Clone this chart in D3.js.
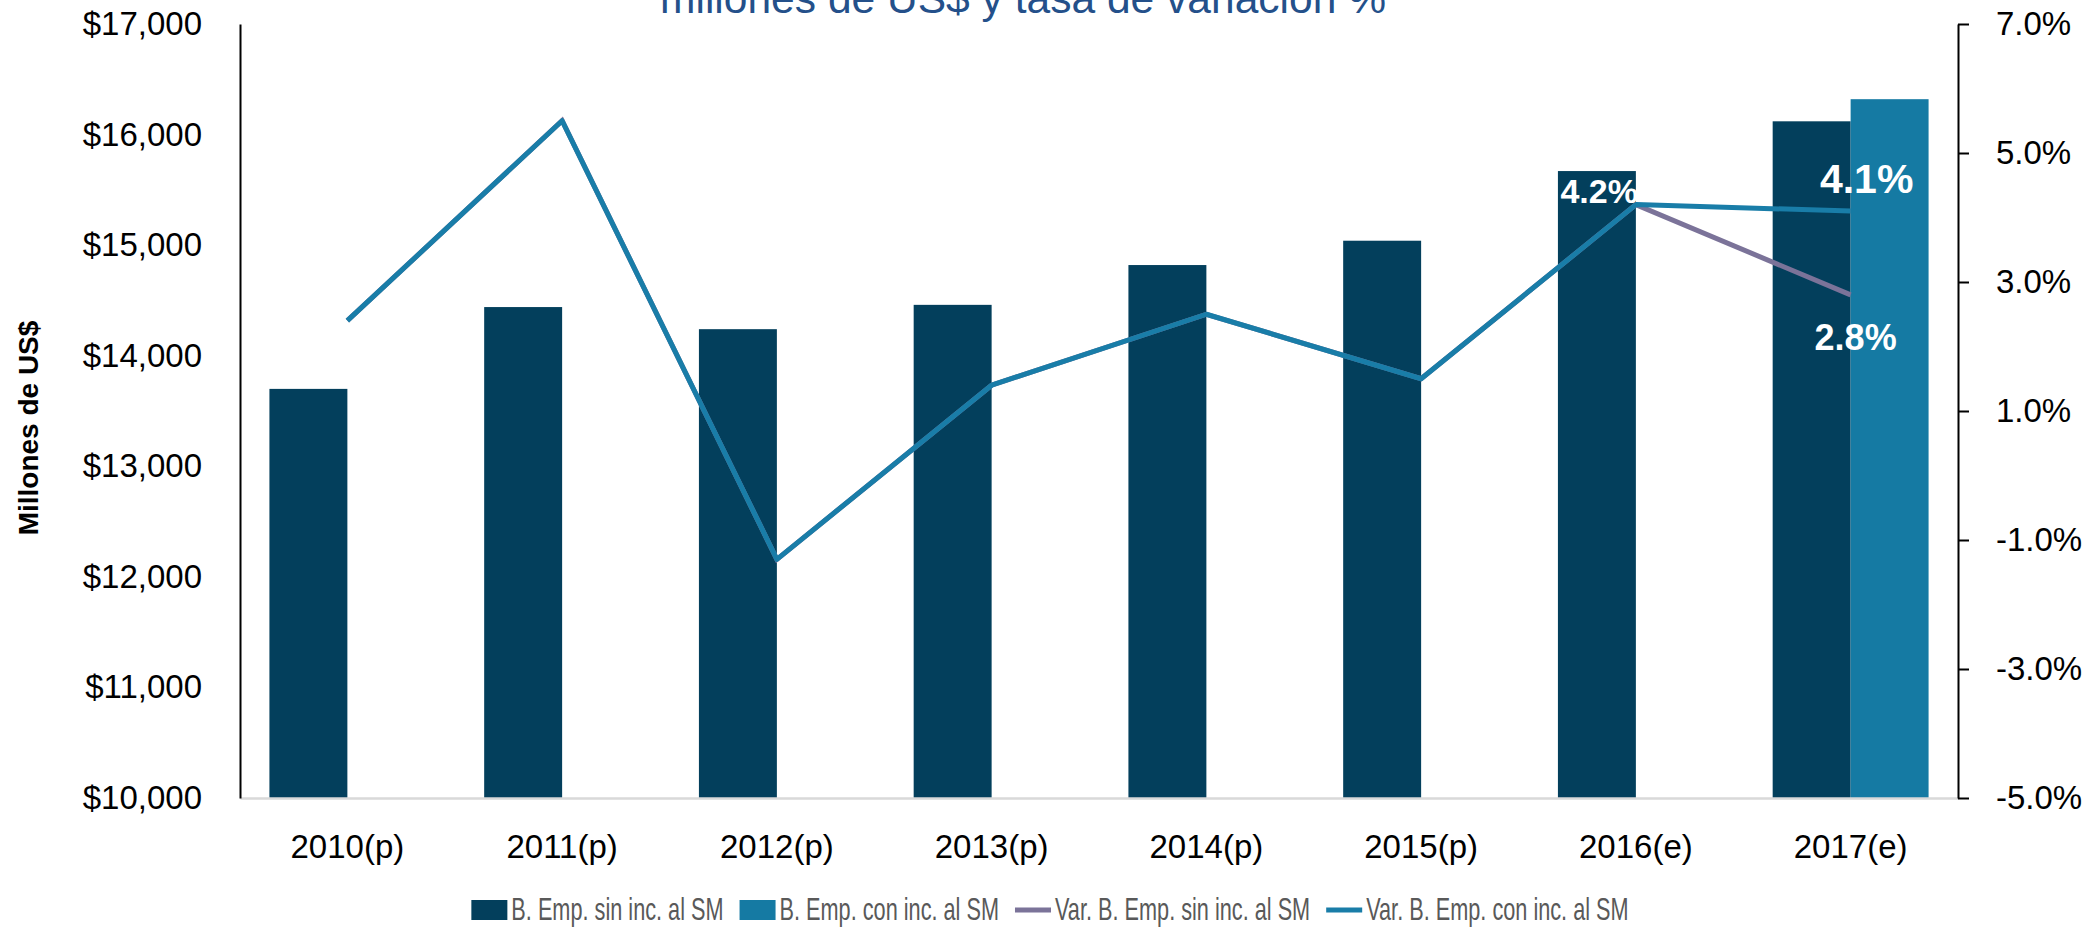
<!DOCTYPE html>
<html>
<head>
  <meta charset="utf-8">
  <title>Beneficio empresarial</title>
  <style>
    body { margin: 0; background: #fff; }
    text { font-family: "Liberation Sans", Arial, sans-serif; }
  </style>
</head>
<body>
  <script src="https://cdnjs.cloudflare.com/ajax/libs/d3/7.8.5/d3.min.js"></script>
  <script>
    // datos
    var years = ['2010(p)', '2011(p)', '2012(p)', '2013(p)', '2014(p)', '2015(p)', '2016(e)', '2017(e)'];
    var sinInc = [13700, 14440, 14240, 14460, 14820, 15040, 15670, 16120];
    var conInc = [null, null, null, null, null, null, null, 16320];
    var varSin = [2.4, 5.5, -1.3, 1.4, 2.5, 1.5, 4.2, 2.8];
    var varCon = [2.4, 5.5, -1.3, 1.4, 2.5, 1.5, 4.2, 4.1];
    var leftTicks = [10000, 11000, 12000, 13000, 14000, 15000, 16000, 17000];
    var rightTicks = [-5, -3, -1, 1, 3, 5, 7];
    var seriesNames = ['B. Emp. sin inc. al SM', 'B. Emp. con inc. al SM',
      'Var. B. Emp. sin inc. al SM', 'Var. B. Emp. con inc. al SM'];
    var titleText = 'millones de US$ y tasa de variación %';
    var yTitle = 'Millones de US$';

    // ojo: "top" es window.top, por eso otros nombres
    var width = 2089, height = 928,
      plotL = 240, plotR = 1958, plotT = 24, plotB = 798;

    var colSin = '#033F5C', colCon = '#157AA3',
      colVarSin = '#7B7399', colVarCon = '#197DA8';

    var svg = d3.select('body').append('svg')
      .attr('width', width)
      .attr('height', height);

    // escalas
    var x = d3.scaleBand().domain(years).range([plotL, plotR]);
    var bw = x.bandwidth();
    var xs = d3.scaleBand().domain(['sin', 'con'])
      .range([bw / 2 - bw * 0.363, bw / 2 + bw * 0.363]);
    var yL = d3.scaleLinear().domain([10000, 17000]).range([plotB, plotT]);
    var yR = d3.scaleLinear().domain([-5, 7]).range([plotB, plotT]);

    // barras
    var groups = svg.append('g').selectAll('g').data(years).enter()
      .append('g')
      .attr('transform', d => `translate(${x(d)},0)`);
    groups.append('rect')
      .attr('x', xs('sin'))
      .attr('width', xs.bandwidth())
      .attr('y', (d, i) => yL(sinInc[i]))
      .attr('height', (d, i) => plotB - yL(sinInc[i]))
      .attr('fill', colSin);
    groups.filter((d, i) => conInc[i] != null).append('rect')
      .attr('x', xs('con'))
      .attr('width', xs.bandwidth())
      .attr('y', d => yL(conInc[years.indexOf(d)]))
      .attr('height', d => plotB - yL(conInc[years.indexOf(d)]))
      .attr('fill', colCon);

    // eje x (linea base gris)
    var xAxis = svg.append('g')
      .attr('transform', `translate(0,${plotB})`)
      .call(d3.axisBottom(x).tickSize(0).tickSizeOuter(0).tickPadding(37));
    xAxis.select('.domain').attr('stroke', '#D9D9D9').attr('stroke-width', 2.5);
    xAxis.selectAll('text').attr('font-size', 33).attr('fill', '#000')
      .attr('font-family', '"Liberation Sans", Arial, sans-serif');

    // eje izquierdo
    var yAxisL = svg.append('g')
      .attr('transform', `translate(${plotL},0)`)
      .call(d3.axisLeft(yL).tickValues(leftTicks).tickSize(0).tickSizeOuter(0)
        .tickPadding(38).tickFormat(d => '$' + d3.format(',')(d)));
    yAxisL.select('.domain').attr('stroke', '#000').attr('stroke-width', 2);
    yAxisL.selectAll('text').attr('font-size', 33).attr('fill', '#000')
      .attr('font-family', '"Liberation Sans", Arial, sans-serif');

    // eje derecho
    var yAxisR = svg.append('g')
      .attr('transform', `translate(${plotR},0)`)
      .call(d3.axisRight(yR).tickValues(rightTicks).tickSize(11).tickSizeOuter(0)
        .tickPadding(27).tickFormat(d => d.toFixed(1) + '%'));
    yAxisR.selectAll('.domain, line').attr('stroke', '#000').attr('stroke-width', 2);
    yAxisR.selectAll('text').attr('font-size', 33).attr('fill', '#000')
      .attr('font-family', '"Liberation Sans", Arial, sans-serif');

    // lineas de variacion
    var line = d3.line()
      .x((d, i) => x(years[i]) + bw / 2)
      .y(d => yR(d));
    svg.append('path').datum(varSin)
      .attr('d', line)
      .attr('fill', 'none')
      .attr('stroke', colVarSin)
      .attr('stroke-width', 5);
    svg.append('path').datum(varCon)
      .attr('d', line)
      .attr('fill', 'none')
      .attr('stroke', colVarCon)
      .attr('stroke-width', 5)
      .attr('stroke-linejoin', 'round');

    // etiquetas de datos
    var labels = [
      { i: 6, v: varCon[6], anchor: 'end', dx: 2, dy: -2, size: 34 },
      { i: 7, v: varCon[7], anchor: 'middle', dx: 16, dy: -18, size: 41 },
      { i: 7, v: varSin[7], anchor: 'middle', dx: 5, dy: 55, size: 36 }
    ];
    svg.append('g').selectAll('text').data(labels).enter()
      .append('text')
      .attr('x', d => x(years[d.i]) + bw / 2 + d.dx)
      .attr('y', d => yR(d.v) + d.dy)
      .attr('text-anchor', d => d.anchor)
      .attr('font-size', d => d.size)
      .attr('font-weight', 'bold')
      .attr('fill', '#fff')
      .text(d => d.v.toFixed(1) + '%');

    // titulo (cortado arriba)
    svg.append('text')
      .attr('x', 1023)
      .attr('y', 13)
      .attr('text-anchor', 'middle')
      .attr('font-size', 42)
      .attr('fill', '#24508A')
      .attr('textLength', 726)
      .attr('lengthAdjust', 'spacingAndGlyphs')
      .text(titleText);

    // titulo eje y
    svg.append('text')
      .attr('transform', 'translate(28,428) rotate(-90)')
      .attr('text-anchor', 'middle')
      .attr('dominant-baseline', 'central')
      .attr('font-size', 28)
      .attr('font-weight', 'bold')
      .text(yTitle);

    // leyenda (texto estrecho: escala horizontal)
    var legend = svg.append('g');
    var swatchColors = [colSin, colCon, colVarSin, colVarCon];
    var squeeze = 0.7;
    var lx = 0;
    seriesNames.forEach(function (name, i) {
      var item = legend.append('g').attr('transform', `translate(${lx},0)`);
      if (i < 2) {
        item.append('rect').attr('x', 0).attr('y', -20).attr('width', 36).attr('height', 20)
          .attr('fill', swatchColors[i]);
      } else {
        item.append('line').attr('x1', 0).attr('x2', 36).attr('y1', -10).attr('y2', -10)
          .attr('stroke', swatchColors[i]).attr('stroke-width', 5);
      }
      var t = item.append('text')
        .attr('transform', `translate(40,0) scale(${squeeze},1)`)
        .attr('font-size', 31)
        .attr('fill', '#595959')
        .text(name);
      var w = t.node().getComputedTextLength() * squeeze;
      lx += 40 + w + 16;
    });
    var legendW = lx - 16;
    legend.attr('transform', `translate(${1050 - legendW / 2},920)`);
  </script>
</body>
</html>
